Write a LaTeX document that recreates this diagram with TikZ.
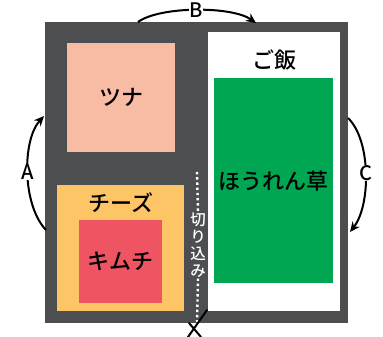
\documentclass[tikz,border=0pt]{standalone}
\usepackage{fontspec}
\setmainfont{Noto Sans CJK JP Medium}
\usetikzlibrary{positioning,arrows.meta}

\definecolor{trayGray}{HTML}{4D4E50}
\definecolor{tunaPink}{HTML}{F8BBA3}
\definecolor{cheeseYellow}{HTML}{FDC566}
\definecolor{kimchiRed}{HTML}{EE5461}
\definecolor{spinachGreen}{HTML}{00A651}

\tikzset{
  box/.style={rectangle, anchor=north west, inner sep=0pt, font=\fontsize{22}{24}\selectfont},
  turn/.style={line width=2pt, -{Stealth[length=10pt,width=9pt]}},
  turnlabel/.style={fill=white, inner sep=0.5pt, font=\fontsize{20}{22}\selectfont},
  cutline/.style={white, line width=2.4pt, dash pattern=on 2.4pt off 2.8pt}
}

\begin{document}
\begin{tikzpicture}[x=1pt,y=-1pt]
    \useasboundingbox[fill=white] (0,0) rectangle (383,337);

    % Define the tray and its compartments
    \node[box, fill=trayGray, minimum width=303pt, minimum height=301pt] (tray) at (45,22) {};
    \node[box, fill=tunaPink, minimum width=108pt, minimum height=109pt] (tuna) at (67,43) {ツナ};
    \node[box, fill=cheeseYellow, minimum width=127pt, minimum height=126pt] (cheese) at (57,185) {};
    \node[box, fill=kimchiRed, minimum width=83pt, minimum height=83pt] (kimchi) at (79,220) {キムチ};
    \node[box, fill=white, minimum width=132pt, minimum height=279pt] (rice) at (208,32) {};
    \node[box, fill=spinachGreen, minimum width=119pt, minimum height=205pt] (spinach) at (214,78) {ほうれん草};

    % Labels at the top of the compartments
    \node[font=\fontsize{22}{24}\selectfont] (cheeseText) at (121,203) {チーズ};
    \node[font=\fontsize{22}{24}\selectfont] (riceText) at (274,60) {ご飯};

    % The cut between the compartments
    \coordinate (cutTop) at (197,172);
    \coordinate (cutBottom) at (197,322);
    \node[white, inner sep=1pt, align=center, font=\fontsize{15.5}{17}\selectfont] (cutText) at (198,245) {切\\り\\込\\み};
    \draw[cutline] (cutTop) -- (cutText.north);
    \draw[cutline] (cutText.south) -- (cutBottom);

    % Scissors
    \draw[line width=2pt, line cap=round] (189,323) -- (201,337);
    \draw[line width=2pt, line cap=round] (188,337) -- (207,310);

    % Draw the turning arrows
    \coordinate (aFrom) at (46,230);
    \coordinate (aTo) at (44,116);
    \coordinate (bFrom) at (138,22);
    \coordinate (bTo) at (256,23);
    \coordinate (cFrom) at (348,118);
    \coordinate (cTo) at (350,232);
    \draw[turn] (aFrom) .. controls (22,205) and (22,140) .. node[turnlabel] (labelA) {A} (aTo);
    \draw[turn] (bFrom) .. controls (160,6) and (232,6) .. node[turnlabel] (labelB) {B} (bTo);
    \draw[turn] (cFrom) .. controls (371,140) and (371,205) .. node[turnlabel] (labelC) {C} (cTo);
\end{tikzpicture}
\end{document}
